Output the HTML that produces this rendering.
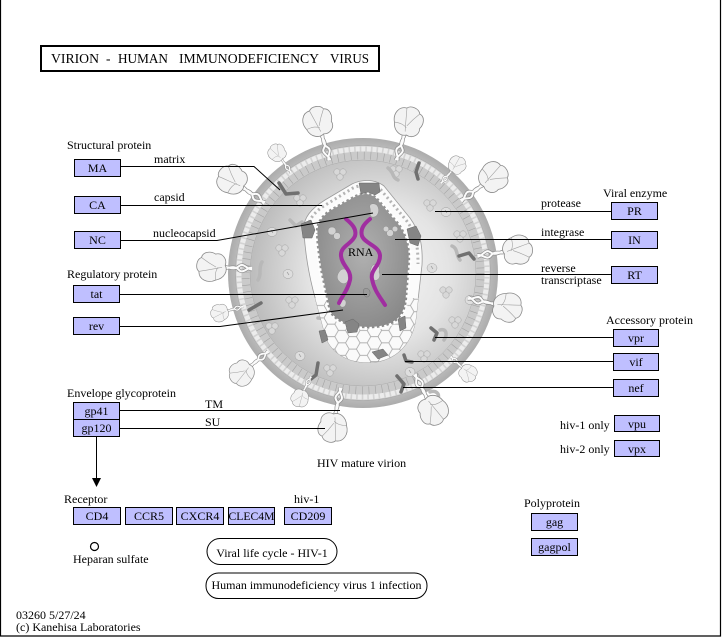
<!DOCTYPE html>
<html><head><meta charset="utf-8"><style>
html,body{margin:0;padding:0;background:#fff;}
svg{display:block;}
text{font-family:"Liberation Serif",serif;fill:#000;}
</style></head><body>
<svg width="722" height="637" viewBox="0 0 722 637" xmlns="http://www.w3.org/2000/svg" font-size="12">
<defs>
  <radialGradient id="rim" cx="0.5" cy="0.5" r="0.5">
    <stop offset="0" stop-color="#cfcfcf"/>
    <stop offset="0.9" stop-color="#c2c2c2"/>
    <stop offset="1" stop-color="#acacac"/>
  </radialGradient>
  <radialGradient id="mat" cx="0.57" cy="0.5" r="0.56">
    <stop offset="0" stop-color="#f6f6f6"/>
    <stop offset="0.55" stop-color="#e4e4e4"/>
    <stop offset="1" stop-color="#bdbdbd"/>
  </radialGradient>
  <radialGradient id="core" cx="0.5" cy="0.45" r="0.6">
    <stop offset="0" stop-color="#b0b0b0"/>
    <stop offset="1" stop-color="#888888"/>
  </radialGradient>
  <pattern id="hex" width="18" height="10.39" patternUnits="userSpaceOnUse" patternTransform="scale(1.2)">
    <rect width="18" height="10.39" fill="#fafafa"/>
    <path d="M0,5.2 L3,0 L9,0 L12,5.2 L9,10.39 L3,10.39 Z M12,5.2 L18,5.2" fill="none" stroke="#9a9a9a" stroke-width="0.6"/>
  </pattern>
  <clipPath id="bottomclip"><rect x="290" y="298" width="150" height="80"/></clipPath>
  <g id="spk">
    <path d="M-2,8 C5,14 -5,20 2,27 C6,31 -1,35 -1,40 M2,8 C-5,14 5,20 -2,27 C-6,31 1,35 1,40" fill="none" stroke="#8c8c8c" stroke-width="3.4"/>
    <path d="M-2,8 C5,14 -5,20 2,27 C6,31 -1,35 -1,40 M2,8 C-5,14 5,20 -2,27 C-6,31 1,35 1,40" fill="none" stroke="#fbfbfb" stroke-width="2"/>
    <path d="M-13,4 C-17,-4 -13,-13 -5,-13 C-2,-17 7,-16 9,-11 C15,-10 16,-2 13,3 C15,10 8,15 2,13 C-3,16 -11,13 -13,4 Z" fill="#f3f3f3" stroke="#8a8a8a" stroke-width="0.8"/>
    <path d="M-5,-13 C-3,-4 -2,2 0,10 M9,-11 C4,-4 2,0 0,4 M-13,4 C-6,3 -3,4 0,6" fill="none" stroke="#a0a0a0" stroke-width="0.6"/>
  </g>
  <g id="tri">
    <circle cx="-3" cy="-2" r="3.2" fill="#d8d8d8" stroke="#a2a2a2" stroke-width="0.5"/>
    <circle cx="3" cy="-2" r="3.2" fill="#d8d8d8" stroke="#a2a2a2" stroke-width="0.5"/>
    <circle cx="0" cy="3" r="3.2" fill="#d8d8d8" stroke="#a2a2a2" stroke-width="0.5"/>
  </g>
  <g id="egg">
    <ellipse cx="0" cy="0" rx="5" ry="4.5" fill="#dedede" stroke="#a0a0a0" stroke-width="0.5"/>
    <path d="M-1,-2 L1,1" stroke="#888" stroke-width="0.6"/>
  </g>
</defs>

<!-- page border -->
<path d="M0.5,0 V636 H720.5 V0" fill="none" stroke="#000" stroke-width="1.2"/>

<!-- title -->
<rect x="41" y="46" width="338" height="25" fill="#fff" stroke="#000" stroke-width="2"/>
<g font-size="13.5">
<text x="51" y="63" textLength="48" lengthAdjust="spacingAndGlyphs">VIRION</text>
<text x="106" y="63">-</text>
<text x="118" y="63" textLength="50" lengthAdjust="spacingAndGlyphs">HUMAN</text>
<text x="179" y="63" textLength="140" lengthAdjust="spacingAndGlyphs">IMMUNODEFICIENCY</text>
<text x="330" y="63" textLength="39" lengthAdjust="spacingAndGlyphs">VIRUS</text>
</g>

<!-- ===== VIRION ===== -->
<circle cx="363" cy="273" r="135" fill="url(#rim)"/>
<circle cx="363" cy="273" r="127.5" fill="#d3d3d3" stroke="#a4a4a4" stroke-width="0.5"/>
<circle cx="363" cy="273" r="124" fill="none" stroke="#ececec" stroke-width="5" stroke-dasharray="4 1.6"/>
<circle cx="363" cy="273" r="117.5" fill="none" stroke="#cacaca" stroke-width="8"/>
<circle cx="363" cy="273" r="117.5" fill="none" stroke="#a2a2a2" stroke-width="8" stroke-dasharray="0.6 6"/>
<circle cx="363" cy="273" r="113" fill="url(#mat)" stroke="#a8a8a8" stroke-width="0.5"/>

<!-- matrix proteins -->
<use href="#tri" x="282" y="250"/>
<use href="#tri" x="292" y="302"/>
<use href="#tri" x="272" y="328"/>
<use href="#tri" x="330" y="370"/>
<use href="#tri" x="430" y="205"/>
<use href="#tri" x="446" y="292"/>
<use href="#tri" x="455" y="322"/>
<use href="#tri" x="300" y="200"/>
<use href="#tri" x="340" y="174"/>
<use href="#tri" x="396" y="171"/>
<use href="#tri" x="460" y="236"/>
<use href="#tri" x="424" y="356"/>
<use href="#egg" x="288" y="274"/>
<use href="#egg" x="432" y="268"/>
<use href="#egg" x="446" y="212"/>
<use href="#egg" x="410" y="372"/>
<use href="#egg" x="272" y="232"/>
<use href="#egg" x="300" y="356"/>
<use href="#egg" x="470" y="300"/>
<g fill="none" stroke="#b8b8b8" stroke-width="3.5" stroke-linecap="round">
  <path d="M262,262 C258,268 262,274 258,280"/>
  <path d="M452,246 C458,248 456,256 460,260"/>
  <path d="M318,318 C324,318 330,322 334,320"/>
  <path d="M388,168 C394,172 392,178 398,180"/>
  <path d="M440,330 C446,328 448,334 444,340"/>
  <path d="M290,220 L296,226 L302,222"/>
  <path d="M430,392 C436,390 440,394 438,398"/>
</g>
<!-- dark proteins -->
<g fill="none" stroke="#707070" stroke-width="3.5" stroke-linecap="round" stroke-linejoin="round">
  <path d="M279,183 L286,194 L298,193"/>
  <path d="M419,163 L416,172 L418,179"/>
  <path d="M459,256 L469,253 L474,259"/>
  <path d="M249,310 L261,303"/>
  <path d="M318,363 L316,375 L311,379"/>
  <path d="M397,376 L404,384 L401,392"/>
  <path d="M431,328 L437,333 L434,340"/>
  <path d="M404,355 L406,361 L412,362"/>
</g>

<!-- capsid -->
<path d="M304,232 C302,218 312,208 325,200 L352,184 C362,179 375,179 384,186 L410,218 C420,232 423,245 422,265 L416,318 C413,340 400,358 376,362 C352,365 333,355 326,338 L313,290 C308,270 305,250 304,232 Z" fill="#fbfbfb" stroke="#9a9a9a" stroke-width="0.8"/>
<path d="M304,232 C302,218 312,208 325,200 L352,184 C362,179 375,179 384,186 L410,218 C420,232 423,245 422,265 L416,318 C413,340 400,358 376,362 C352,365 333,355 326,338 L313,290 C308,270 305,250 304,232 Z" fill="url(#hex)" clip-path="url(#bottomclip)"/>
<path d="M308,232 C307,220 315,211 327,204 L353,188 C362,184 373,184 381,190 L406,220 C416,233 418,246 418,264" fill="none" stroke="#b4b4b4" stroke-width="3" stroke-dasharray="2 3"/>
<path d="M316,233 C315,222 323,213 332,208 L355,195 C364,191 372,192 378,198 L400,224 C408,236 411,248 410,262 L407,300 C405,316 397,326 376,328 C356,330 336,324 329,312 L320,270 C318,255 316,243 316,233 Z" fill="url(#core)" stroke="#fff" stroke-width="3" stroke-dasharray="2.5 2.5"/>
<!-- capsid dark pieces -->
<g fill="#858585" stroke="#666" stroke-width="0.5">
  <path d="M359,183 L379,183 L380,192 L375,195 L368,192 L361,194 Z"/>
  <path d="M301,224 L311,220 L315,230 L312,238 L303,238 Z"/>
  <path d="M407,229 L416,226 L421,236 L418,246 L410,243 Z"/>
  <path d="M345,322 L353,319 L359,324 L357,332 L348,333 Z"/>
  <path d="M372,352 L383,349 L388,355 L378,359 Z"/>
  <path d="M319,331 L325,330 L328,340 L322,343 Z"/>
  <path d="M398,319 L405,316 L406,328 L400,331 Z"/>
</g>
<!-- inner proteins -->
<g fill="#d2d2d2" stroke="#8e8e8e" stroke-width="0.5">
  <path d="M370,208 C368,203 376,202 378,207 C380,212 377,218 372,217 C369,216 371,212 370,208 Z"/>
  <circle cx="332" cy="231" r="4"/><circle cx="337" cy="236" r="3.5"/>
  <circle cx="390" cy="233" r="3.5"/><circle cx="386" cy="229" r="2.8"/><circle cx="395" cy="229" r="2.8"/>
  <path d="M339,272 C343,266 349,270 348,276 C350,282 344,286 340,282 C336,279 337,275 339,272 Z"/>
  <path d="M372,266 C376,262 381,266 379,272 C382,278 376,283 372,279 C369,275 370,270 372,266 Z"/>
  <path d="M340,300 C344,298 348,301 345,306 C342,309 338,306 340,300 Z"/>
</g>
<path d="M364,289 C368,287 372,291 369,296 C366,299 362,295 364,289 Z" fill="#9a9a9a" stroke="#6e6e6e" stroke-width="0.5"/>
<!-- RNA -->
<g fill="none" stroke="#a02ea0" stroke-width="4" stroke-linecap="round">
  <path d="M346,219 C352,224 357,229 355,236 C352,244 340,246 341,256 C342,266 352,270 350,280 C348,290 342,296 339,303"/>
  <path d="M370,219 C364,224 360,229 362,236 C365,244 380,246 380,256 C380,266 370,270 372,279 C374,290 380,297 385,305"/>
</g>
<text x="348" y="256">RNA</text>

<!-- spikes -->
<use href="#spk" transform="translate(363,273) rotate(-16.6) translate(0,-157.6)"/>
<use href="#spk" transform="translate(363,273) rotate(16.6) translate(0,-157.6)"/>
<use href="#spk" transform="translate(363,273) rotate(-35.6) translate(0,-147.6) scale(0.6)"/>
<use href="#spk" transform="translate(363,273) rotate(-54.6) translate(0,-160.7)"/>
<use href="#spk" transform="translate(363,273) rotate(41) translate(0,-143) scale(0.6)"/>
<use href="#spk" transform="translate(363,273) rotate(53.6) translate(0,-161.6)"/>
<use href="#spk" transform="translate(363,273) rotate(81.5) translate(0,-155.7)"/>
<use href="#spk" transform="translate(363,273) rotate(-87.7) translate(0,-151)"/>
<use href="#spk" transform="translate(363,273) rotate(-105.6) translate(0,-148.5) scale(0.6)"/>
<use href="#spk" transform="translate(363,273) rotate(103.3) translate(0,-148)"/>
<use href="#spk" transform="translate(363,273) rotate(-129.6) translate(0,-157) scale(0.85)"/>
<use href="#spk" transform="translate(363,273) rotate(133.6) translate(0,-145) scale(0.6)"/>
<use href="#spk" transform="translate(363,273) rotate(-153.3) translate(0,-140) scale(0.6)"/>
<use href="#spk" transform="translate(363,273) rotate(152.9) translate(0,-153.8)"/>
<use href="#spk" transform="translate(363,273) rotate(-169) translate(0,-157)"/>

<!-- connector lines -->
<g fill="none" stroke="#000" stroke-width="1">
  <path d="M120,166.5 H254 L280,190"/>
  <path d="M120,205.5 H322"/>
  <path d="M120,240.5 H217 L373,213"/>
  <path d="M119,294.5 H367"/>
  <path d="M119,326.5 H220 L343,310"/>
  <path d="M119,410.5 H340"/>
  <path d="M119,428.5 H325"/>
  <path d="M96.5,437 V480"/>
  <path d="M435,211.5 H611"/>
  <path d="M395,239.5 H611"/>
  <path d="M382,274.5 H611"/>
  <path d="M435,337.5 H613"/>
  <path d="M405,361.5 H613"/>
  <path d="M403,387.5 H613"/>
</g>
<path d="M92,478 L101,478 L96.5,487 Z" fill="#000"/>

<!-- boxes -->
<g fill="#bfbfff" stroke="#000" stroke-width="1">
  <rect x="74.5" y="159.5" width="46" height="17"/>
  <rect x="74.5" y="196.5" width="46" height="17"/>
  <rect x="74.5" y="231.5" width="46" height="17"/>
  <rect x="73.5" y="285.5" width="46" height="17"/>
  <rect x="73.5" y="317.5" width="46" height="17"/>
  <rect x="73.5" y="402.5" width="46" height="17"/>
  <rect x="73.5" y="419.5" width="46" height="17"/>
  <rect x="73.5" y="507.5" width="47" height="17"/>
  <rect x="125.5" y="507.5" width="47" height="17"/>
  <rect x="176.5" y="507.5" width="47" height="17"/>
  <rect x="228.5" y="507.5" width="46" height="17"/>
  <rect x="284.5" y="507.5" width="47" height="17"/>
  <rect x="611.5" y="202.5" width="46" height="17"/>
  <rect x="611.5" y="231.5" width="46" height="17"/>
  <rect x="611.5" y="266.5" width="46" height="17"/>
  <rect x="613.5" y="329.5" width="45" height="17"/>
  <rect x="613.5" y="353.5" width="45" height="17"/>
  <rect x="613.5" y="379.5" width="45" height="17"/>
  <rect x="614.5" y="415.5" width="45" height="16"/>
  <rect x="614.5" y="440.5" width="45" height="16"/>
  <rect x="531.5" y="513.5" width="46" height="17"/>
  <rect x="531.5" y="538.5" width="46" height="17"/>
</g>
<g text-anchor="middle">
  <text x="97.5" y="172">MA</text>
  <text x="97.5" y="209">CA</text>
  <text x="97.5" y="244">NC</text>
  <text x="96.5" y="298">tat</text>
  <text x="96.5" y="330">rev</text>
  <text x="96.5" y="415">gp41</text>
  <text x="96.5" y="432">gp120</text>
  <text x="97" y="520">CD4</text>
  <text x="149" y="520">CCR5</text>
  <text x="200" y="520">CXCR4</text>
  <text x="251.5" y="520" textLength="46" lengthAdjust="spacingAndGlyphs">CLEC4M</text>
  <text x="308" y="520">CD209</text>
  <text x="634.5" y="215">PR</text>
  <text x="634.5" y="244">IN</text>
  <text x="634.5" y="279">RT</text>
  <text x="636" y="342">vpr</text>
  <text x="636" y="366">vif</text>
  <text x="636" y="392">nef</text>
  <text x="637" y="428">vpu</text>
  <text x="637" y="453">vpx</text>
  <text x="554.5" y="526">gag</text>
  <text x="554.5" y="551">gagpol</text>
</g>

<!-- labels -->
<text x="67" y="149">Structural protein</text>
<text x="154" y="163">matrix</text>
<text x="154" y="201">capsid</text>
<text x="153" y="237">nucleocapsid</text>
<text x="67" y="278">Regulatory protein</text>
<text x="67" y="397">Envelope glycoprotein</text>
<text x="205" y="408">TM</text>
<text x="205" y="426">SU</text>
<text x="64" y="503">Receptor</text>
<text x="294" y="503">hiv-1</text>
<text x="73" y="563">Heparan sulfate</text>
<text x="317" y="467">HIV mature virion</text>
<text x="603" y="197">Viral enzyme</text>
<text x="541" y="207">protease</text>
<text x="541" y="236">integrase</text>
<text x="541" y="272">reverse</text>
<text x="541" y="284">transcriptase</text>
<text x="606" y="324">Accessory protein</text>
<text x="560" y="429">hiv-1 only</text>
<text x="560" y="453">hiv-2 only</text>
<text x="524" y="507">Polyprotein</text>

<circle cx="94.5" cy="546.5" r="4" fill="#fff" stroke="#000" stroke-width="1.2"/>

<rect x="207" y="538.5" width="130" height="26" rx="13" fill="#fff" stroke="#000" stroke-width="1"/>
<text x="272" y="557" text-anchor="middle">Viral life cycle - HIV-1</text>
<rect x="206" y="573" width="221" height="25.5" rx="12.5" fill="#fff" stroke="#000" stroke-width="1"/>
<text x="316.5" y="589" text-anchor="middle">Human immunodeficiency virus 1 infection</text>

<text x="16" y="619">03260 5/27/24</text>
<text x="16" y="631">(c) Kanehisa Laboratories</text>
</svg>
</body></html>
